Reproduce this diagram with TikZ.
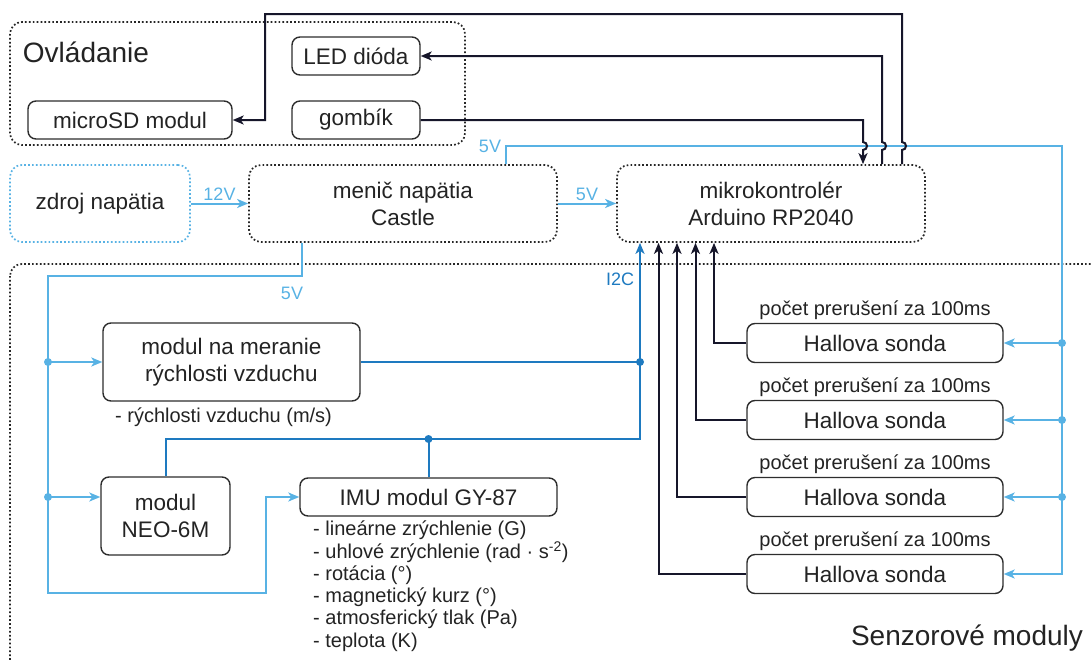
\documentclass[tikz,border=0pt]{standalone}
\usepackage{fontspec}
\setmainfont{Liberation Sans}
\usetikzlibrary{arrows.meta}
\definecolor{pwrblue}{RGB}{88,178,228}
\definecolor{busblue}{RGB}{30,122,192}
\definecolor{wirec}{RGB}{22,22,42}
\definecolor{boxc}{RGB}{45,45,45}
\definecolor{txtc}{RGB}{35,35,35}
\newcommand{\fsz}[2]{\fontsize{#1}{#2}\selectfont}

\begin{document}
\begin{tikzpicture}[x=1pt, y=-1pt,
    >={Stealth[length=11pt, width=9pt, inset=3pt]},
    box/.style={draw=boxc, line width=1.4pt, rounded corners=8pt, inner sep=0pt,
      align=center, text=txtc, font=\fsz{22.5}{27}},
    dbox/.style={box, draw=black!85, line width=1.7pt, dash pattern=on 1.7pt off 2.2pt,
      rounded corners=12pt},
    grp/.style={draw=black!85, line width=1.7pt, dash pattern=on 1.7pt off 2.2pt,
      rounded corners=12pt},
    sig/.style={wirec, line width=2pt},
    pwr/.style={pwrblue, line width=2pt},
    bus/.style={busblue, line width=2pt},
    vlbl/.style={font=\fsz{18}{20}, text=pwrblue, inner sep=2pt},
    lst/.style={font=\fsz{20}{22}, text=txtc, inner sep=0pt},
    ttl/.style={font=\fsz{28}{32}, text=txtc, inner sep=0pt},
  ]
    \useasboundingbox (0,0) rectangle (1092,659);
    \clip (0,0) rectangle (1092,659);
    \def\jy{146}  % height of the 5V rail the signal wires jump over

    % === Ovladanie ===
    \draw[grp] (10,22) rectangle (465,145);
    \node[ttl] (tctl) at (86,52) {Ovládanie};
    \node[box, minimum width=128pt, minimum height=38pt] (led) at (356,56) {LED dióda};
    \node[box, minimum width=128pt, minimum height=38pt] (btn) at (356,120) {gombík};
    \node[box, minimum width=204pt, minimum height=38pt] (sd) at (130,120) {microSD modul};

    % === Napajanie a MCU ===
    \node[dbox, draw=pwrblue, minimum width=180pt, minimum height=77pt] (src) at (100,203.5) {zdroj napätia};
    \node[dbox, minimum width=308pt, minimum height=77pt] (conv) at (403,203.5) {menič napätia\\Castle};
    \node[dbox, minimum width=308pt, minimum height=77pt] (mcu) at (771,203.5) {mikrokontrolér\\Arduino RP2040};

    \draw[pwr,->] (src) -- node[vlbl, above] (l12) {12V} (conv);
    \draw[pwr,->] (conv) -- node[vlbl, above] (l5b) {5V} (mcu);

    % === Senzorove moduly ===
    \draw[grp] (10,264) rectangle (1130,720);
    \node[ttl] (tsens) at (967,638) {Senzorové moduly};

    \node[box, minimum width=257pt, minimum height=78pt] (air) at (231.5,362) {modul na meranie\\rýchlosti vzduchu};
    \node[lst, anchor=west] (airl) at (115,417) {- rýchlosti vzduchu (m/s)};
    \node[box, minimum width=129pt, minimum height=78pt] (gps) at (165.5,516) {modul\\NEO-6M};
    \node[box, minimum width=257pt, minimum height=38pt] (imu) at (428.5,497) {IMU modul GY-87};
    \foreach \t [count=\i] in {- lineárne zrýchlenie (G),
        - uhlové zrýchlenie (rad · s\textsuperscript{-2}),
        - rotácia (°), - magnetický kurz (°),
        - atmosferický tlak (Pa), - teplota (K)} {
      \node[lst, anchor=west] (imul\i) at (313,530+22.4*\i-22.4) {\t};
    }

    % Hall sondy
    \foreach \k/\yy/\dx in {1/343/-57, 2/420/-75.5, 3/497/-94, 4/574/-112.5} {
      \node[box, minimum width=256pt, minimum height=39pt] (hall\k) at (875,\yy) {Hallova sonda};
      \node[lst] (cnt\k) at ([yshift=33pt]hall\k.center) {počet prerušení za 100ms};
      \draw[sig,->] (hall\k.west) -| ([xshift=\dx pt]mcu.south);
    }

    % === 5V rozvod ===
    \coordinate (vbus) at (1062,\jy);
    \node[vlbl] (l5a) at (490,\jy) {5V};
    \draw[pwr,->] ([xshift=103pt]conv.north) |- (vbus) |- (hall4.east);
    \foreach \k in {1,2,3} {
      \draw[pwr,->] (vbus |- hall\k.east) -- (hall\k.east);
      \fill[pwrblue] (vbus |- hall\k.east) circle[radius=4pt];
    }

    \coordinate (vleft) at (48,276);
    \coordinate (vbot) at (266,593);
    \node[vlbl] (l5c) at (292,293) {5V};
    \draw[pwr,->] ([xshift=-101pt]conv.south) |- (vleft) |- (vbot) |- (imu.west);
    \draw[pwr,->] (vleft |- air.west) -- (air.west);
    \draw[pwr,->] (vleft |- imu.west) -- (gps.west |- imu.west);
    \fill[pwrblue] (vleft |- air.west) circle[radius=4pt];
    \fill[pwrblue] (vleft |- imu.west) circle[radius=4pt];

    % === I2C ===
    \coordinate (ibus) at (640,439);
    \node[vlbl, text=busblue] (li2c) at (620,279) {I2C};
    \draw[bus,->] (gps.north) |- (ibus) -- (ibus |- mcu.south);
    \draw[bus] (air.east) -- (air.east -| ibus);
    \draw[bus] (imu.north) -- (imu.north |- ibus);
    \fill[busblue] (air.east -| ibus) circle[radius=4pt];
    \fill[busblue] (imu.north |- ibus) circle[radius=4pt];

    % === MCU <-> Ovladanie (with jumps over 5V) ===
    \draw[sig,->] (btn.east) -| (863,\jy-4) .. controls (868.3,\jy-4) and (868.3,\jy+4) .. (863,\jy+4)
      -- ([xshift=92pt]mcu.north);
    \draw[sig,->] ([xshift=111pt]mcu.north) -- (882,\jy+4)
      .. controls (887.3,\jy+4) and (887.3,\jy-4) .. (882,\jy-4) |- (led.east);
    \draw[sig,->] ([xshift=131pt]mcu.north) -- (902,\jy+4)
      .. controls (907.3,\jy+4) and (907.3,\jy-4) .. (902,\jy-4) |- (265,14) |- (sd.east);
\end{tikzpicture}
\end{document}
